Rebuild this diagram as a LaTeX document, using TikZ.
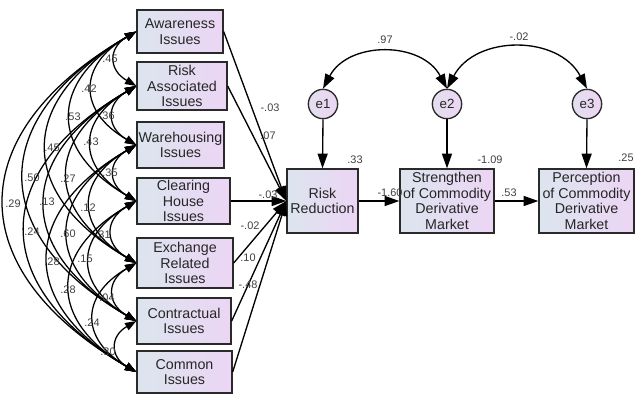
\documentclass[tikz,border=0pt]{standalone}
\usepackage{fontspec}
\setmainfont{Liberation Sans}
\usetikzlibrary{arrows.meta}
\definecolor{boxL}{HTML}{DCE5EE}
\definecolor{boxR}{HTML}{ECD5F4}
\definecolor{circL}{HTML}{E2DEEE}
\definecolor{circR}{HTML}{ECD6F3}
\definecolor{edgec}{HTML}{2A2A2A}
\begin{document}
\begin{tikzpicture}[x=0.75pt,y=-0.75pt,
  vbox/.style={draw=edgec, line width=1pt, left color=boxL, right color=boxR, align=center, inner sep=0pt, text=black!85, font=\fontsize{10.7}{11.8}\selectfont},
  ebox/.style={circle, draw=edgec, line width=1pt, left color=circL, right color=circR, minimum size=22pt, inner sep=0pt, text=black!85, font=\fontsize{10}{12}\selectfont},
  lbl/.style={font=\fontsize{8.2}{9}\selectfont, text=black!75, inner sep=0pt},
  parrow/.style={draw=black, line width=1pt, -{Triangle[length=11pt,width=7.5pt]}},
  corr/.style={draw=black, line width=0.95pt, {Triangle[length=8.5pt,width=6pt]}-{Triangle[length=8.5pt,width=6pt]}, bend right=60, looseness=1.53},
  ecorr/.style={draw=black, line width=1pt, {Triangle[length=11pt,width=7.5pt]}-{Triangle[length=11pt,width=7.5pt]}, bend left=62, looseness=1.12},
]
\useasboundingbox (0,0) rectangle (635,394);

% exogenous variables
\node[vbox, minimum width=64.5pt, minimum height=32.25pt] (aw) at (180,31.5) {Awareness\\Issues};
\node[vbox, minimum width=67.5pt, minimum height=36pt] (ra) at (182,86) {Risk\\Associated\\Issues};
\node[vbox, minimum width=65.25pt, minimum height=34.5pt] (wh) at (180.5,145) {Warehousing\\Issues};
\node[vbox, minimum width=69.75pt, minimum height=34.5pt] (ch) at (183.5,201) {Clearing\\House\\Issues};
\node[vbox, minimum width=72pt, minimum height=37.5pt] (er) at (185,263) {Exchange\\Related\\Issues};
\node[vbox, minimum width=70.5pt, minimum height=34.5pt] (ct) at (184,321) {Contractual\\Issues};
\node[vbox, minimum width=71.25pt, minimum height=31.5pt] (cm) at (184.5,372) {Common\\Issues};

% endogenous variables
\node[vbox, minimum width=53.25pt, minimum height=48pt] (rr) at (322.5,201) {Risk\\Reduction};
\node[vbox, minimum width=70.5pt, minimum height=48pt] (sd) at (447,201) {Strengthen\\of Commodity\\Derivative\\Market};
\node[vbox, minimum width=71.25pt, minimum height=48pt] (pc) at (586.5,201) {Perception\\of Commodity\\Derivative\\Market};

% error terms
\node[ebox] (e1) at (323,104) {e1};
\node[ebox] (e2) at (447,104) {e2};
\node[ebox] (e3) at (587,104) {e3};

% correlations among exogenous variables
\draw[corr] (aw.west) to (ra.west);
\draw[corr] (aw.west) to (wh.west);
\draw[corr] (aw.west) to (ch.west);
\draw[corr] (aw.west) to (er.west);
\draw[corr] (aw.west) to (ct.west);
\draw[corr] (aw.west) to (cm.west);
\draw[corr] (ra.west) to (wh.west);
\draw[corr] (ra.west) to (ch.west);
\draw[corr] (ra.west) to (er.west);
\draw[corr] (ra.west) to (ct.west);
\draw[corr] (ra.west) to (cm.west);
\draw[corr] (wh.west) to (ch.west);
\draw[corr] (wh.west) to (er.west);
\draw[corr] (wh.west) to (ct.west);
\draw[corr] (wh.west) to (cm.west);
\draw[corr] (ch.west) to (er.west);
\draw[corr] (ch.west) to (ct.west);
\draw[corr] (ch.west) to (cm.west);
\draw[corr] (er.west) to (ct.west);
\draw[corr] (er.west) to (cm.west);
\draw[corr] (ct.west) to (cm.west);

\node[lbl] (c12) at (110,59) {.45};
\node[lbl] (c13) at (89,89) {.42};
\node[lbl] (c14) at (73,117) {.53};
\node[lbl] (c15) at (52,148) {.45};
\node[lbl] (c16) at (32,178) {.50};
\node[lbl] (c17) at (13,204) {.29};
\node[lbl] (c23) at (107,116) {.36};
\node[lbl] (c24) at (91,142) {.43};
\node[lbl] (c25) at (68,179) {.27};
\node[lbl] (c26) at (47,202) {.13};
\node[lbl] (c27) at (32,232) {.24};
\node[lbl] (c34) at (110,173) {.35};
\node[lbl] (c35) at (88,208) {.12};
\node[lbl] (c36) at (68,234) {.60};
\node[lbl] (c37) at (52,262) {.28};
\node[lbl] (c45) at (103,235) {.31};
\node[lbl] (c46) at (85,259) {.15};
\node[lbl] (c47) at (68,290) {.28};
\node[lbl] (c56) at (107,298) {.04};
\node[lbl] (c57) at (92,323) {.24};
\node[lbl] (c67) at (108,352) {.30};

% paths to Risk Reduction
\draw[parrow] (aw.east) -- (rr.west);
\draw[parrow] (ra.east) -- (rr.west);
\draw[parrow] (ch.east) -- (rr.west);
\draw[parrow] (er.east) -- (rr.west);
\draw[parrow] (ct.east) -- (rr.west);
\draw[parrow] (cm.east) -- (rr.west);
\node[lbl] (p1) at (270,108) {-.03};
\node[lbl] (p2) at (268,136) {.07};
\node[lbl] (p4) at (268,195) {-.03};
\node[lbl] (p5) at (250,226) {-.02};
\node[lbl] (p6) at (248,258) {.10};
\node[lbl] (p7) at (248,285) {-.48};

% structural paths
\draw[parrow] (rr.east) -- (sd.west);
\draw[parrow] (sd.east) -- (pc.west);
\draw[parrow] (e1.south) -- (rr.north);
\draw[parrow] (e2.south) -- (sd.north);
\draw[parrow] (e3.south) -- (pc.north);
\node[lbl] (b1) at (390,193) {-1.60};
\node[lbl] (b2) at (509,193) {.53};
\node[lbl] (r1) at (355,160) {.33};
\node[lbl] (r2) at (490,160) {-1.09};
\node[lbl] (r3) at (626,158) {.25};

% error covariances
\draw[ecorr] (e1.north) to (e2.north);
\draw[ecorr] (e2.north) to (e3.north);
\node[lbl] (k1) at (385,40) {.97};
\node[lbl] (k2) at (519,37) {-.02};
\end{tikzpicture}
\end{document}
